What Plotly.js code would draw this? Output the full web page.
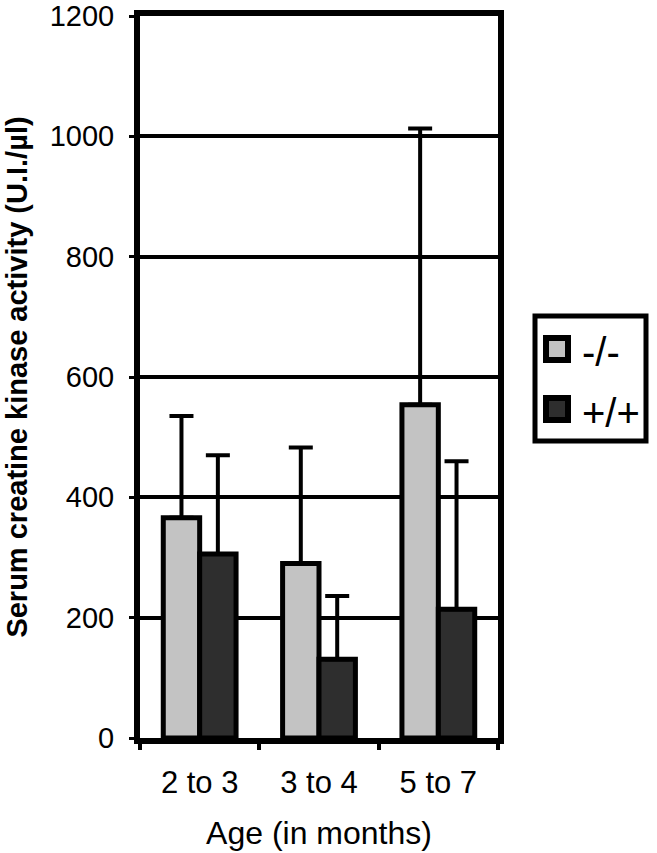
<!DOCTYPE html>
<html>
<head>
<meta charset="utf-8">
<script src="https://cdn.plot.ly/plotly-3.0.1.min.js"></script>
<style>html,body{margin:0;padding:0;background:#fff;}#chart{width:657px;height:853px;}</style>
</head>
<body>
<div id="chart"></div>
<script>
// Data
const categories = ["2 to 3", "3 to 4", "5 to 7"];
const seriesNames = ["-/-", "+/+"];
const knockoutMean = [366, 290, 554];
const knockoutSD = [169, 193, 459];
const wildtypeMean = [306, 131, 214];
const wildtypeSD = [164, 105, 246];
const yTicks = [0, 200, 400, 600, 800, 1000, 1200];

const W = 657, H = 853;
const M = {l: 140, r: 159, t: 16, b: 115};
const PW = W - M.l - M.r, PH = H - M.t - M.b;
const X = px => (px - M.l) / PW;
const Y = py => (M.t + PH - py) / PH;

const lightFill = "#c3c3c3";
const darkFill = "#2e2e2e";
const FONT = "Liberation Sans, Arial, Helvetica, sans-serif";

function barTrace(name, y, sd, color) {
  return {
    type: "bar", name: name, x: categories, y: y, showlegend: false,
    marker: {color: color, line: {color: "#000", width: 5}},
    error_y: {type: "data", symmetric: false, array: sd, arrayminus: sd.map(() => 0),
              color: "#000", thickness: 4, width: 12}
  };
}

const data = [
  barTrace(seriesNames[0], knockoutMean, knockoutSD, lightFill),
  barTrace(seriesNames[1], wildtypeMean, wildtypeSD, darkFill)
];

const shapes = [
  {type: "rect", xref: "paper", yref: "paper", x0: X(535), x1: X(646), y0: Y(441), y1: Y(316),
   line: {color: "#000", width: 5}, fillcolor: "#fff"},
  {type: "rect", xref: "paper", yref: "paper", x0: X(546), x1: X(568), y0: Y(360), y1: Y(338),
   line: {color: "#000", width: 6}, fillcolor: lightFill},
  {type: "rect", xref: "paper", yref: "paper", x0: X(546), x1: X(568), y0: Y(420), y1: Y(398),
   line: {color: "#000", width: 6}, fillcolor: darkFill}
];

const annotations = [
  {xref: "paper", yref: "paper", x: X(580), y: Y(352), xanchor: "left", yanchor: "middle",
   text: seriesNames[0], showarrow: false, font: {family: FONT, size: 40, color: "#000"}},
  {xref: "paper", yref: "paper", x: X(580), y: Y(413), xanchor: "left", yanchor: "middle",
   text: seriesNames[1], showarrow: false, font: {family: FONT, size: 40, color: "#000"}}
];

const layout = {
  width: W, height: H,
  margin: M,
  paper_bgcolor: "#fff", plot_bgcolor: "#fff",
  barmode: "group", bargap: 0.39, bargroupgap: 0,
  showlegend: false,
  font: {family: FONT, color: "#000"},
  xaxis: {
    type: "category",
    showline: true, mirror: true, linecolor: "#000", linewidth: 6,
    ticks: "outside", tickson: "boundaries", ticklen: 6, tickwidth: 4, tickcolor: "#000",
    tickfont: {family: FONT, size: 31, color: "#000"},
    ticklabelstandoff: 12,
    showgrid: false, zeroline: false,
    title: {text: "Age (in months)", font: {family: FONT, size: 32, color: "#000"}, standoff: 24}
  },
  yaxis: {
    range: [0, 1200], tickvals: yTicks, ticktext: yTicks.map(String),
    showline: true, mirror: true, linecolor: "#000", linewidth: 6,
    ticks: "outside", ticklen: 5, tickwidth: 3, tickcolor: "#000",
    tickfont: {family: FONT, size: 29, color: "#000"},
    ticklabelstandoff: 9, ticklabeloverflow: "allow",
    showgrid: true, gridcolor: "#000", gridwidth: 4, zeroline: false,
    title: {text: "<b>Serum creatine kinase activity (U.I./µl)</b>",
            font: {family: FONT, size: 29, color: "#000"}, standoff: 16}
  },
  shapes: shapes,
  annotations: annotations
};

Plotly.newPlot("chart", data, layout, {staticPlot: true, displayModeBar: false});
</script>
</body>
</html>
